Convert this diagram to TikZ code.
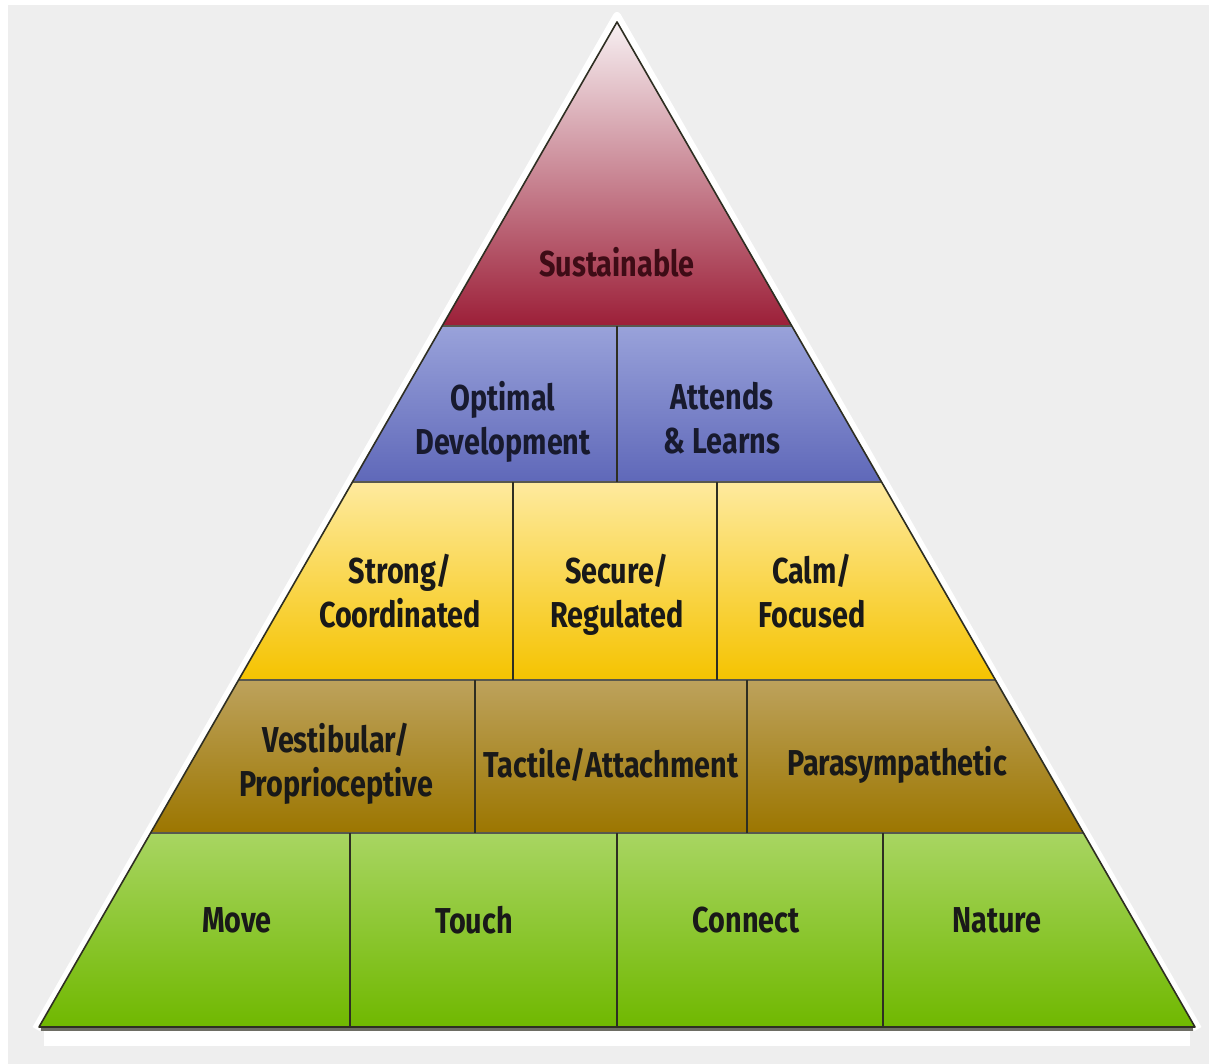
\documentclass[tikz,border=0pt]{standalone}
\usepackage{fontspec}
\newfontfamily\pyrfont[FakeStretch=0.8]{Fira Sans}
\definecolor{bggray}{HTML}{EEEEEE}
\definecolor{redtop}{HTML}{F7F0F2}
\definecolor{redbot}{HTML}{9C1F38}
\definecolor{bluetop}{HTML}{99A2DA}
\definecolor{bluebot}{HTML}{5F68B9}
\definecolor{yeltop}{HTML}{FEEA9E}
\definecolor{yelbot}{HTML}{F5C300}
\definecolor{brntop}{HTML}{BDA25C}
\definecolor{brnbot}{HTML}{9C7600}
\definecolor{grntop}{HTML}{A8D562}
\definecolor{grnbot}{HTML}{70B800}
\definecolor{edge}{HTML}{2E2E22}
\tikzset{
  tiertext/.style={font=\pyrfont\bfseries\fontsize{18}{22}\selectfont, align=center, inner sep=0pt, text=black!90},
  divider/.style={draw=edge, line width=1pt},
  seam/.style={draw=edge!80, line width=1.2pt}
}
\begin{document}
\begin{tikzpicture}[x=0.5pt,y=0.5pt]
	\useasboundingbox (0,0) rectangle (1209,-1064);
	\fill [white] (0,0) rectangle (1209,-1064);
	\fill [bggray] (8,-5) rectangle (1209,-1064);
	% halo and shadow
	\fill [white] (44,-1030) rectangle (1190,-1046);
	\draw [white, line width=4pt, line join=round] (36,-1029) -- (617,-16) -- (1198,-1029);
	% bands
	\shade [top color=redtop, bottom color=redbot] (617,-22) -- (792,-326) -- (442,-326) -- cycle;
	\shade [top color=bluetop, bottom color=bluebot] (442,-326) -- (792,-326) -- (882,-482) -- (352,-482) -- cycle;
	\shade [top color=yeltop, bottom color=yelbot] (352,-482) -- (882,-482) -- (995,-680) -- (239,-680) -- cycle;
	\shade [top color=brntop, bottom color=brnbot] (239,-680) -- (995,-680) -- (1083,-833) -- (151,-833) -- cycle;
	\shade [top color=grntop, bottom color=grnbot] (151,-833) -- (1083,-833) -- (1195,-1027) -- (39,-1027) -- cycle;
	% seams between bands
	\draw [seam] (442,-326) -- (792,-326);
	\draw [seam] (352,-482) -- (882,-482);
	\draw [seam] (239,-680) -- (995,-680);
	\draw [seam] (151,-833) -- (1083,-833);
	% dividers
	\draw [divider] (617,-326) -- (617,-482);
	\draw [divider] (513,-482) -- (513,-680);
	\draw [divider] (717,-482) -- (717,-680);
	\draw [divider] (475,-680) -- (475,-833);
	\draw [divider] (747,-680) -- (747,-833);
	\draw [divider] (350,-833) -- (350,-1027);
	\draw [divider] (617,-833) -- (617,-1027);
	\draw [divider] (883,-833) -- (883,-1027);
	% outline
	\draw [edge, line width=0.8pt, line join=round] (617,-22) -- (1195,-1027) -- (39,-1027) -- cycle;
	\draw [edge!70, line width=1.5pt] (41,-1029) -- (1193,-1029);
	% texts
	\node [tiertext, text=redbot!40!black] (sustain) at (617,-262) {Sustainable};
	\node [tiertext, text=bluebot!25!black] (optimal) at (503,-422) {Optimal\\Development};
	\node [tiertext, text=bluebot!25!black] (attends) at (722,-418) {Attends\\\& Learns};
	\node [tiertext] (strong) at (400,-591) {Strong/\\Coordinated};
	\node [tiertext] (secure) at (617,-595) {Secure/\\Regulated};
	\node [tiertext] (calm) at (812,-591) {Calm/\\Focused};
	\node [tiertext] (vestib) at (336,-764) {Vestibular/\\Proprioceptive};
	\node [tiertext] (tactile) at (611,-765) {Tactile/Attachment};
	\node [tiertext] (parasym) at (897,-765) {Parasympathetic};
	\node [tiertext] (move) at (237,-920) {Move};
	\node [tiertext] (touch) at (474,-920) {Touch};
	\node [tiertext] (connect) at (746,-920) {Connect};
	\node [tiertext] (nature) at (997,-920) {Nature};
\end{tikzpicture}
\end{document}
